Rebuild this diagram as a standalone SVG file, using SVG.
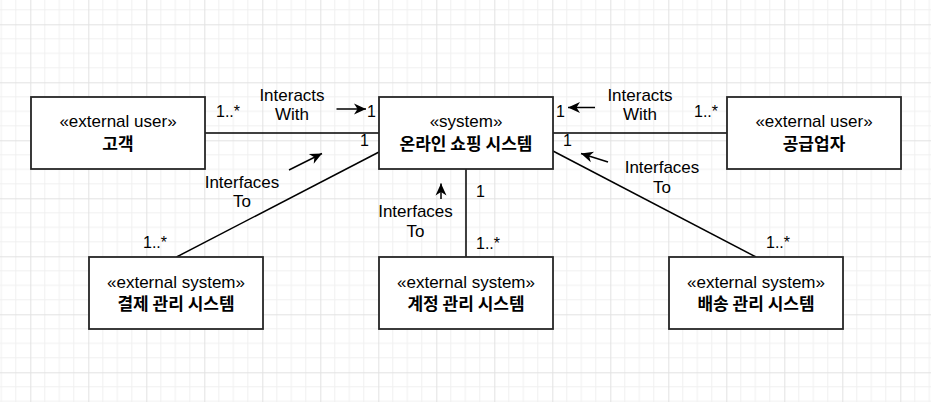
<svg xmlns="http://www.w3.org/2000/svg" width="931" height="402" viewBox="0 0 931 402">
<defs>
<pattern id="grid" x="30.3" y="24.3" width="58" height="58" patternUnits="userSpaceOnUse">
<path d="M14.5,0V58M29,0V58M43.5,0V58M0,14.5H58M0,29H58M0,43.5H58" stroke="#f0f0f0" stroke-width="1" fill="none"/>
<path d="M0.5,0V58M0,0.5H58" stroke="#e2e2e2" stroke-width="1" fill="none"/>
</pattern>
<marker id="arr" markerUnits="userSpaceOnUse" markerWidth="14" markerHeight="12" refX="12" refY="5.5" orient="auto" overflow="visible">
<path d="M0,0 L12,5.5 L0,11 L3.5,5.5 Z" fill="#000"/>
</marker>
</defs>
<style>
.box{fill:#fff;stroke:#262626;stroke-width:1.8}
.edge{stroke:#000;stroke-width:1.5;fill:none}
.arrow{stroke:#000;stroke-width:1.5;fill:none;marker-end:url(#arr)}
.st{font-family:"Liberation Sans",Arial,sans-serif;font-size:17px;fill:#000;text-anchor:middle}
.kr{font-family:"Noto Sans CJK KR","Liberation Sans",sans-serif;font-size:17px;font-weight:bold;fill:#000;text-anchor:middle}
.lbl{font-family:"Liberation Sans",Arial,sans-serif;font-size:17px;fill:#000;text-anchor:middle}
.mul{font-family:"Liberation Sans",Arial,sans-serif;font-size:16px;fill:#000}
</style>
<rect width="931" height="402" fill="#fff"/>
<rect width="931" height="402" fill="url(#grid)"/>

<g id="connectors">
<line class="edge" x1="205" y1="133" x2="379" y2="133"/>
<line class="edge" x1="553" y1="133" x2="727" y2="133"/>
<line class="edge" x1="176.5" y1="257" x2="379" y2="152"/>
<line class="edge" x1="466" y1="169" x2="466" y2="257"/>
<line class="edge" x1="756" y1="257" x2="553" y2="151"/>
<line class="arrow" x1="336.5" y1="109" x2="366" y2="109"/>
<line class="arrow" x1="595" y1="107.5" x2="568" y2="107.5"/>
<line class="arrow" x1="289" y1="170" x2="322" y2="153.5"/>
<line class="arrow" x1="608" y1="162" x2="581" y2="153.5"/>
<line class="arrow" x1="441" y1="199" x2="441" y2="183.5"/>
<text class="lbl" x="292" y="101">Interacts</text>
<text class="lbl" x="292" y="120">With</text>
<text class="lbl" x="640" y="101">Interacts</text>
<text class="lbl" x="640" y="120">With</text>
<text class="lbl" x="242" y="187.5">Interfaces</text>
<text class="lbl" x="242" y="207">To</text>
<text class="lbl" x="662" y="173">Interfaces</text>
<text class="lbl" x="662" y="193">To</text>
<text class="lbl" x="415.5" y="217">Interfaces</text>
<text class="lbl" x="415.5" y="236.5">To</text>
<text class="mul" x="216" y="117">1..*</text>
<text class="mul" x="367" y="117">1</text>
<text class="mul" x="360" y="146">1</text>
<text class="mul" x="556" y="117">1</text>
<text class="mul" x="694" y="117">1..*</text>
<text class="mul" x="563" y="146">1</text>
<text class="mul" x="476" y="197">1</text>
<text class="mul" x="476" y="249">1..*</text>
<text class="mul" x="143" y="248">1..*</text>
<text class="mul" x="766" y="248">1..*</text>
</g>

<g id="customer">
<rect class="box" x="31" y="97" width="174" height="72"/>
<text class="st" x="118" y="127">«external user»</text>
<text class="kr" x="118" y="150">고객</text>
</g>
<g id="system">
<rect class="box" x="379" y="97" width="174" height="72"/>
<text class="st" x="466" y="127">«system»</text>
<text class="kr" x="466" y="150">온라인 쇼핑 시스템</text>
</g>
<g id="supplier">
<rect class="box" x="727" y="97" width="174" height="72"/>
<text class="st" x="814" y="127">«external user»</text>
<text class="kr" x="814" y="150">공급업자</text>
</g>
<g id="payment">
<rect class="box" x="89" y="257" width="174" height="72"/>
<text class="st" x="176" y="287.5">«external system»</text>
<text class="kr" x="176" y="310">결제 관리 시스템</text>
</g>
<g id="account">
<rect class="box" x="379" y="257" width="174" height="72"/>
<text class="st" x="466" y="287.5">«external system»</text>
<text class="kr" x="466" y="310">계정 관리 시스템</text>
</g>
<g id="shipping">
<rect class="box" x="669" y="257" width="174" height="72"/>
<text class="st" x="756" y="287.5">«external system»</text>
<text class="kr" x="756" y="310">배송 관리 시스템</text>
</g>
</svg>
